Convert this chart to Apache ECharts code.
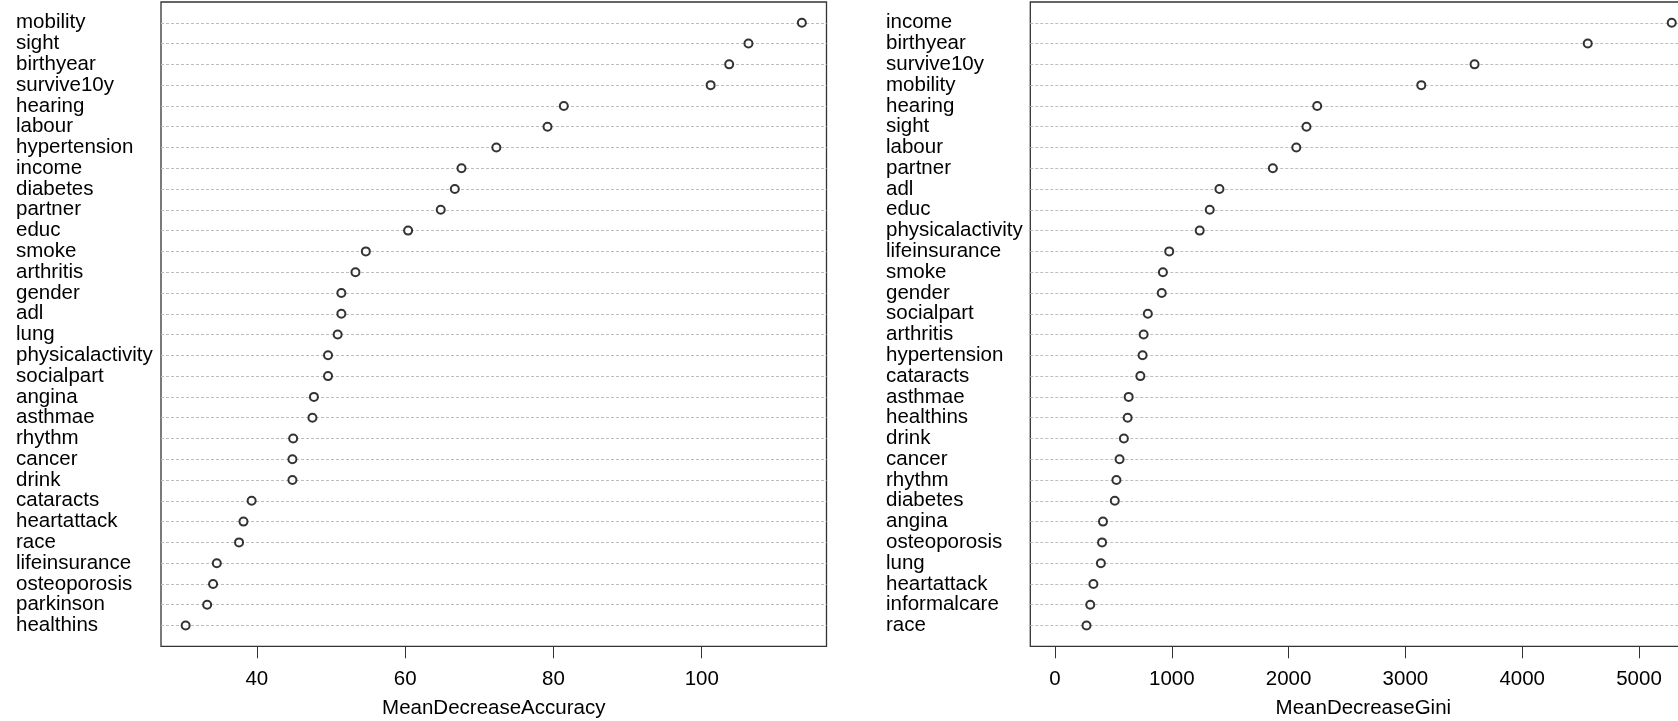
<!DOCTYPE html>
<html><head><meta charset="utf-8">
<script src="https://cdn.jsdelivr.net/npm/echarts@6/dist/echarts.min.js"></script>
<style>html,body{margin:0;padding:0;background:#fff}#c{width:1678px;height:721px}</style>
</head><body><div id="c"></div><script>
// Data read top-to-bottom as in the reference
const accNames = ['mobility','sight','birthyear','survive10y','hearing','labour','hypertension','income','diabetes','partner','educ','smoke','arthritis','gender','adl','lung','physicalactivity','socialpart','angina','asthmae','rhythm','cancer','drink','cataracts','heartattack','race','lifeinsurance','osteoporosis','parkinson','healthins'];
const accValues = [113.5,106.3,103.7,101.2,81.4,79.2,72.3,67.6,66.7,64.8,60.4,54.7,53.3,51.4,51.4,50.9,49.6,49.6,47.7,47.5,44.9,44.8,44.8,39.3,38.2,37.6,34.6,34.1,33.3,30.4];
const giniNames = ['income','birthyear','survive10y','mobility','hearing','sight','labour','partner','adl','educ','physicalactivity','lifeinsurance','smoke','gender','socialpart','arthritis','hypertension','cataracts','asthmae','healthins','drink','cancer','rhythm','diabetes','angina','osteoporosis','lung','heartattack','informalcare','race'];
const giniValues = [5280,4561,3592,3136,2245,2153,2066,1865,1408,1325,1239,978,924,914,795,759,750,731,631,622,590,553,526,512,411,403,393,329,302,270];
const accTicks = [40,60,80,100];
const giniTicks = [0,1000,2000,3000,4000,5000];
const accTitle = 'MeanDecreaseAccuracy';
const giniTitle = 'MeanDecreaseGini';

const FONT = "'Liberation Sans', Arial, sans-serif";
const FS = 20.5;

function cats(names){ return [''].concat(names.slice().reverse()).concat([' ']); }
function pts(names, vals){ return names.map((n,i)=>[vals[i], names.length - i]); }
function rng(lo, hi){ const d=(hi-lo)*0.04; return [lo-d, hi+d]; }

const accR = rng(Math.min(...accValues), Math.max(...accValues));
const giniR = rng(0, Math.max(...giniValues));

function xAx(gi, r, ticks, title){
  return {
    type:'value', gridIndex:gi, min:r[0], max:r[1],
    axisLine:{show:false}, splitLine:{show:false},
    axisTick:{show:true, customValues:ticks, length:12, lineStyle:{color:'#333', width:1}},
    axisLabel:{show:true, customValues:ticks, fontSize:FS, fontFamily:FONT, color:'#000', margin:23,
               formatter:(v)=>String(v)},
    name:title, nameLocation:'middle', nameGap:52,
    nameTextStyle:{fontSize:FS, fontFamily:FONT, color:'#000'}
  };
}
function yAx(gi, names, margin){
  const c = cats(names);
  return {
    type:'category', gridIndex:gi, data:c, boundaryGap:false,
    axisLine:{show:false}, axisTick:{show:false},
    axisLabel:{interval:0, align:'left', margin:margin, fontSize:FS, fontFamily:FONT, color:'#000'},
    splitLine:{show:true, interval:(idx)=> idx>0 && idx<c.length-1, lineStyle:{color:'#bebebe', type:[3,2], width:1}}
  };
}

const chart = echarts.init(document.getElementById('c'), null, {renderer:'canvas'});
chart.setOption({
  animation:false,
  backgroundColor:'#fff',
  grid:[
    {left:161, top:2, width:665.5, height:644.3, show:true, borderColor:'#333', borderWidth:1.3, backgroundColor:'transparent', containLabel:false, outerBoundsMode:'none'},
    {left:1030.3, top:2, width:666.1, height:644.3, show:true, borderColor:'#333', borderWidth:1.3, backgroundColor:'transparent', containLabel:false, outerBoundsMode:'none'}
  ],
  xAxis:[xAx(0, accR, accTicks, accTitle), xAx(1, giniR, giniTicks, giniTitle)],
  yAxis:[yAx(0, accNames, 145), yAx(1, giniNames, 144.3)],
  series:[
    {type:'scatter', xAxisIndex:0, yAxisIndex:0, data:pts(accNames, accValues), symbol:'emptyCircle', symbolSize:8,
     itemStyle:{color:'#000', borderColor:'#000', borderWidth:1.2}, silent:true},
    {type:'scatter', xAxisIndex:1, yAxisIndex:1, data:pts(giniNames, giniValues), symbol:'emptyCircle', symbolSize:8,
     itemStyle:{color:'#000', borderColor:'#000', borderWidth:1.2}, silent:true}
  ]
});
</script></body></html>
